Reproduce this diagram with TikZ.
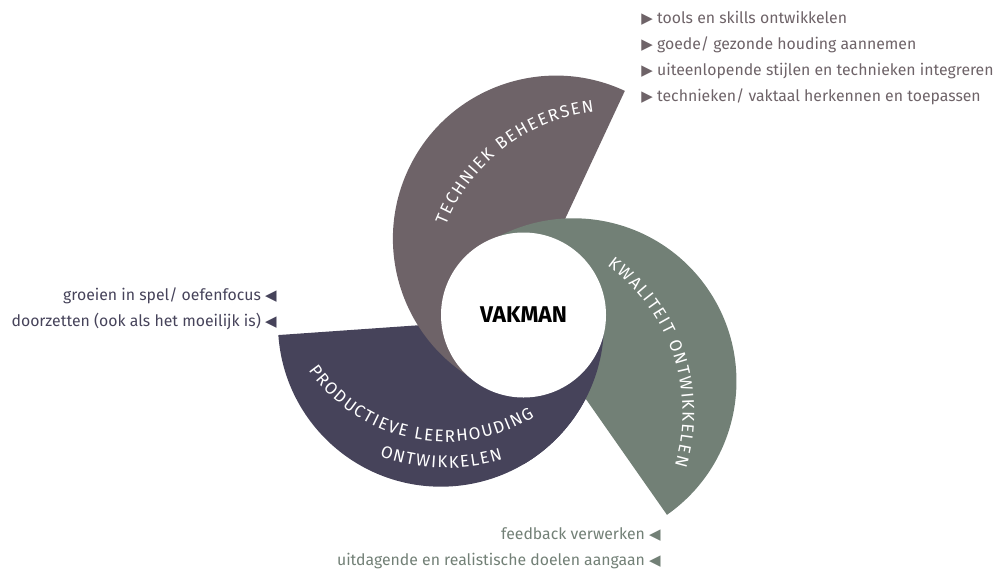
\documentclass[tikz,border=0pt]{standalone}
\usepackage{fontspec}
\setmainfont{Fira Sans}
\newfontfamily\symfont{DejaVu Sans}
\usetikzlibrary{decorations.text}

\definecolor{techniek}{HTML}{6E6368}
\definecolor{kwaliteit}{HTML}{728076}
\definecolor{leerhouding}{HTML}{46435A}

\newcommand{\labelfont}{\fontsize{8.5}{10}\selectfont}
\newcommand{\rtri}{{\symfont\fontsize{7.5}{7.5}\selectfont ▶}}
\newcommand{\ltri}{{\symfont\fontsize{7.5}{7.5}\selectfont ◀}}

\tikzset{
  arclabel/.style={decorate, decoration={text effects along path, text={#1}, text align=center,
      text effects/.cd, characters={text along path, text=white, font=\labelfont, inner xsep=0.4pt}}},
  listleft/.style={inner sep=0pt, align=left, font=\fontsize{7.9}{13}\selectfont},
  listright/.style={inner sep=0pt, align=right, font=\fontsize{7.9}{13}\selectfont},
}

\begin{document}
\begin{tikzpicture}[x=0.5pt, y=-0.5pt]
\useasboundingbox (0,0) rectangle (1000,574);

\coordinate (c) at (523.5,315);
\path (c) ++(-67:83) coordinate (b1);
\path (c) ++(53:83) coordinate (b2);
\path (c) ++(174:83) coordinate (b3);

% three half discs
\fill[leerhouding] (b3) ++(176:163) arc[start angle=176, end angle=-4, radius=163] -- cycle;
\fill[techniek] (b1) ++(-65:163) arc[start angle=-65, end angle=-245, radius=163] -- cycle;
\fill[kwaliteit] (b2) ++(55:163) arc[start angle=55, end angle=-125, radius=163] -- cycle;
\begin{scope}
  \clip (523.5,0) rectangle (1000,574);
  \fill[leerhouding] (b3) ++(176:163) arc[start angle=176, end angle=-4, radius=163] -- cycle;
\end{scope}

\node[circle, fill=white, minimum size=82.5pt, inner sep=0pt,
  font=\fontsize{11.4}{12}\selectfont\bfseries] (vakman) at (c) {VAKMAN};

% labels on the arcs
\coordinate (t1) at (614,292);
\coordinate (t2) at (500.5,413);
\coordinate (t3) at (446,274);
\path[arclabel={TECHNIEK BEHEERSEN}] (t1) ++(-182.3:181) arc[start angle=-182.3, end angle=-72.3, radius=181];
\path[arclabel={KWALITEIT ONTWIKKELEN}] (t2) ++(-73.7:182) arc[start angle=-73.7, end angle=36.3, radius=182];
\path[arclabel={PRODUCTIEVE LEERHOUDING}] (t3) ++(156.6:168) arc[start angle=156.6, end angle=46.6, radius=168];
\path[arclabel={ONTWIKKELEN}] (t3) ++(146.5:194) arc[start angle=146.5, end angle=36.5, radius=194];

% lists
\node[listleft, text=techniek, anchor=north west] (techlist) at (641,11) {%
  \rtri\ tools en skills ontwikkelen\\
  \rtri\ goede/ gezonde houding aannemen\\
  \rtri\ uiteenlopende stijlen en technieken integreren\\
  \rtri\ technieken/ vaktaal herkennen en toepassen};
\node[listright, text=leerhouding, anchor=north east] (leerlist) at (277,287) {%
  groeien in spel/ oefenfocus \ltri\\
  doorzetten (ook als het moeilijk is) \ltri};
\node[listright, text=kwaliteit, anchor=north east] (kwallist) at (661,527) {%
  feedback verwerken \ltri\\
  uitdagende en realistische doelen aangaan \ltri};
\end{tikzpicture}
\end{document}
